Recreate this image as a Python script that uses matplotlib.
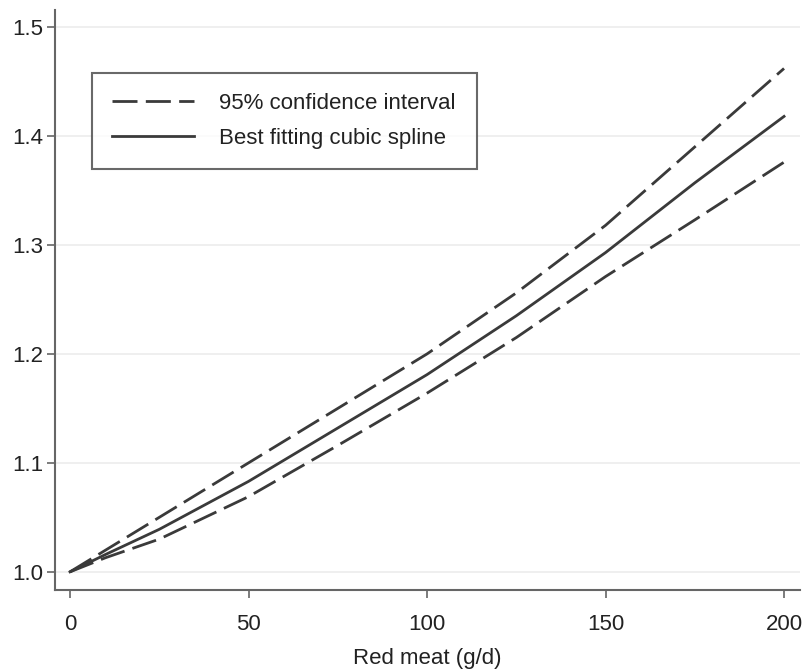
import matplotlib.pyplot as plt
import numpy as np

plt.rcParams['font.family'] = ['Liberation Sans', 'DejaVu Sans']

meat = [0, 10, 25, 50, 75, 100, 125, 150, 175, 200]
fit = [1.0, 1.016, 1.039, 1.083, 1.132, 1.181, 1.235, 1.293, 1.357, 1.418]
upper = [1.0, 1.020, 1.050, 1.100, 1.150, 1.200, 1.256, 1.318, 1.390, 1.462]
lower = [1.0, 1.013, 1.030, 1.069, 1.116, 1.164, 1.215, 1.271, 1.323, 1.376]
yticks = [1.0, 1.1, 1.2, 1.3, 1.4, 1.5]
xticks = [0, 50, 100, 150, 200]

fig = plt.figure(figsize=(8.09, 6.71), dpi=100)
ax = fig.add_axes([0.068, 0.121, 0.921, 0.864])

col = '#3a3a3a'
dash = (0, (9, 3))
ax.plot(meat, upper, color=col, lw=2, linestyle=dash, label='95% confidence interval')
ax.plot(meat, fit, color=col, lw=2, label='Best fitting cubic spline')
ax.plot(meat, lower, color=col, lw=2, linestyle=dash)

ax.set_xlim(-4.2, 204.5)
ax.set_ylim(0.9835, 1.5156)
ax.set_xticks(xticks)
ax.set_yticks(yticks)
ax.set_yticklabels(['%.1f' % v for v in yticks])
for y in yticks:
    ax.axhline(y, color='#ececec', lw=1.2, zorder=0)

for s in ['top', 'right']:
    ax.spines[s].set_visible(False)
for s in ['left', 'bottom']:
    ax.spines[s].set_color('#666666')
    ax.spines[s].set_linewidth(1.5)
ax.tick_params(direction='out', length=5.5, width=1.2, color='#666666',
               labelsize=16, labelcolor='#222222', pad=3)
ax.tick_params(axis='x', pad=12)
ax.set_xlabel('Red meat (g/d)', fontsize=16, color='#222222', labelpad=9)

leg = ax.legend(loc='upper left', bbox_to_anchor=(0.05, 0.891, 0.517, 0.0),
                mode='expand', fontsize=16, frameon=True, fancybox=False,
                edgecolor='#444444', handlelength=3.7, handletextpad=1.1,
                borderpad=0.9, labelspacing=0.62, borderaxespad=0)
leg.get_frame().set_linewidth(1.5)
for t in leg.get_texts():
    t.set_color('#222222')

fig.savefig('out.png', dpi=100, facecolor='white')
